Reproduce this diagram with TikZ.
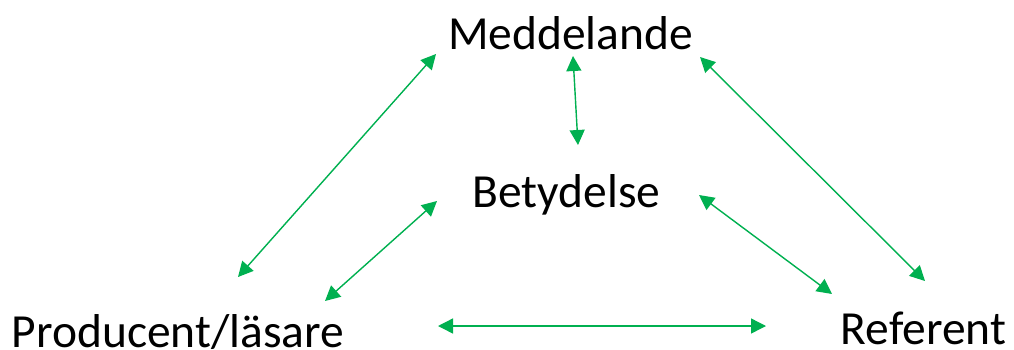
\documentclass[tikz,border=0pt]{standalone}
\usepackage{fontspec}
\setmainfont{Carlito}
\usepackage{tikz}
\usetikzlibrary{arrows.meta}
\definecolor{linkgreen}{HTML}{00B050}

\begin{document}
\begin{tikzpicture}[x=1pt, y=-1pt,
    term/.style={anchor=base, inner sep=0pt, font=\fontsize{47.5}{57}\selectfont},
    link/.style={{Triangle[length=15pt,width=15pt]}-{Triangle[length=15pt,width=15pt]}, draw=linkgreen, fill=linkgreen, line width=1.4pt}]
  \useasboundingbox (0,0) rectangle (1014,349);
  \node[term] (medd) at (570.5,49) {Meddelande};
  \node[term] (bet)  at (566.5,207) {Betydelse};
  \node[term] (prod) at (178,347) {Producent/läsare};
  \node[term] (ref)  at (923.5,344) {Referent};
  \path[every edge/.style={link}]
  ([shift={(60,-70)}]prod.base)   edge ([shift={(-134.5,5)}]medd.base)
  ([shift={(2.5,7)}]medd.base)    edge ([shift={(11.5,-62)}]bet.base)
  ([shift={(129.5,8)}]medd.base)  edge ([shift={(1.5,-63)}]ref.base)
  ([shift={(-129.5,-6)}]bet.base) edge ([shift={(147,-46)}]prod.base)
  ([shift={(132.5,-12)}]bet.base) edge ([shift={(-91.5,-50)}]ref.base)
  ([shift={(260,-21)}]prod.base)  edge ([shift={(-157.5,-18)}]ref.base)
  ;
\end{tikzpicture}
\end{document}
